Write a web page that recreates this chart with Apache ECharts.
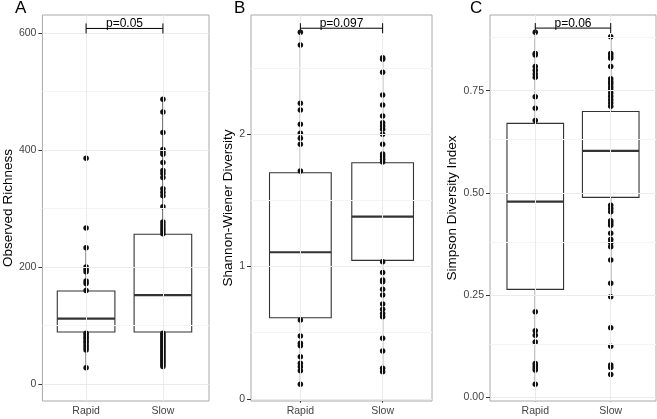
<!DOCTYPE html>
<html><head><meta charset="utf-8">
<script src="https://cdn.jsdelivr.net/npm/echarts@6/dist/echarts.min.js"></script>
<style>html,body{margin:0;padding:0;background:#fff}#c{width:657px;height:419px}</style>
</head><body><div id="c"></div>
<script>
// ---- data ----
const groups = ['Rapid', 'Slow'];
const panelLetters = ['A', 'B', 'C'];
const yTitles = ['Observed Richness', 'Shannon-Wiener Diversity', 'Simpson Diversity Index'];
const pLabels = ['p=0.05', 'p=0.097', 'p=0.06'];
const bracketLevels = [608, 2.80, 0.903];

// Observed Richness: box = [lower whisker, Q1, median, Q3, upper whisker]
const richnessBox = [[28, 89, 112, 159, 233], [30, 89, 152, 256, 487]];
const richnessRapid = [386, 267, 233, 200, 196, 192, 176, 172, 160, 87, 84, 80, 77, 73, 70, 66, 62, 58, 28];
const richnessSlow = [487, 465, 430, 401, 397, 393, 379, 365, 360, 353, 334, 328, 322, 303, 277, 272, 267, 262, 257,
  87, 84, 81, 78, 75, 72, 69, 66, 63, 60, 57, 54, 51, 48, 45, 42, 39, 36, 33, 30];
const richnessTicks = [0, 200, 400, 600];
const richnessMinor = [100, 300, 500];
const richnessRange = [-29, 631];

// Shannon-Wiener Diversity
const shannonBox = [[0.109, 0.612, 1.107, 1.708, 2.77], [0.204, 1.046, 1.376, 1.784, 2.577]];
const shannonRapid = [2.77, 2.673, 2.233, 2.182, 2.074, 2.006, 1.968, 1.923, 1.721,
  0.595, 0.474, 0.419, 0.401, 0.318, 0.268, 0.242, 0.212, 0.109];
const shannonSlow = [2.577, 2.565, 2.467, 2.296, 2.22, 2.137, 2.086, 2.061, 2.036, 1.998, 1.923, 1.85, 1.83, 1.81, 1.79,
  1.036, 0.955, 0.897, 0.884, 0.827, 0.784, 0.716, 0.676, 0.645, 0.62, 0.457, 0.361, 0.23, 0.204];
const shannonTicks = [0, 1, 2];
const shannonMinor = [0.5, 1.5, 2.5];
const shannonRange = [-0.017, 2.9];

// Simpson Diversity Index
const simpsonBox = [[0.032, 0.264, 0.4785, 0.670, 0.893], [0.246, 0.489, 0.6025, 0.699, 0.882]];
const simpsonRapid = [0.893, 0.841, 0.837, 0.809, 0.80, 0.791, 0.783, 0.735, 0.707, 0.677,
  0.209, 0.163, 0.152, 0.135, 0.083, 0.077, 0.072, 0.067, 0.032];
const simpsonSlow = [0.882, 0.841, 0.835, 0.829, 0.809, 0.779, 0.772, 0.766, 0.759, 0.752, 0.744, 0.736, 0.728, 0.72, 0.712,
  0.47, 0.462, 0.454, 0.432, 0.427, 0.421, 0.401, 0.386, 0.378, 0.368, 0.336, 0.279, 0.246, 0.170, 0.125, 0.079, 0.073, 0.056];
const simpsonTicks = [0, 0.25, 0.5, 0.75];
const simpsonMinor = [0.125, 0.375, 0.625, 0.875];
const simpsonRange = [-0.009, 0.935];

// ---- layout (not data) ----
const layout = [
  { left: 40, width: 169, nameGap: 27, letterLeft: 15, fmt: v => String(v) },
  { left: 251, width: 181, nameGap: 15, letterLeft: 234, fmt: v => String(v) },
  { left: 490, width: 166, nameGap: 31, letterLeft: 470, fmt: v => v.toFixed(2) }
];
const TOP = 15, HEIGHT = 386;
const panels = [
  { box: richnessBox, pts: [richnessRapid, richnessSlow], ticks: richnessTicks, minor: richnessMinor, range: richnessRange },
  { box: shannonBox, pts: [shannonRapid, shannonSlow], ticks: shannonTicks, minor: shannonMinor, range: shannonRange },
  { box: simpsonBox, pts: [simpsonRapid, simpsonSlow], ticks: simpsonTicks, minor: simpsonMinor, range: simpsonRange }
];

const INK = '#333333';
const grids = [], xAxes = [], yAxes = [], series = [], titles = [];

function renderBox(params, api) {
  const x = api.value(0);
  const lo = api.coord([x, api.value(1)]);
  const q1 = api.coord([x, api.value(2)]);
  const md = api.coord([x, api.value(3)]);
  const q3 = api.coord([x, api.value(4)]);
  const hi = api.coord([x, api.value(5)]);
  const hw = api.size([1, 0])[0] * 0.375;
  const cx = lo[0];
  const ls = { stroke: INK, lineWidth: 1.1 };
  return { type: 'group', children: [
    { type: 'line', shape: { x1: cx, y1: hi[1], x2: cx, y2: q3[1] }, style: ls },
    { type: 'line', shape: { x1: cx, y1: q1[1], x2: cx, y2: lo[1] }, style: ls },
    { type: 'rect', shape: { x: cx - hw, y: q3[1], width: 2 * hw, height: q1[1] - q3[1] }, style: { fill: '#fff', stroke: INK, lineWidth: 1.1 } },
    { type: 'line', shape: { x1: cx - hw, y1: md[1], x2: cx + hw, y2: md[1] }, style: { stroke: INK, lineWidth: 2.2 } }
  ]};
}

function renderBracket(params, api) {
  const y = api.value(1);
  const a = api.coord([0, y]);
  const b = api.coord([1, y]);
  const ls = { stroke: '#000', lineWidth: 1 };
  return { type: 'group', children: [
    { type: 'line', shape: { x1: a[0], y1: a[1], x2: b[0], y2: b[1] }, style: ls },
    { type: 'line', shape: { x1: a[0], y1: a[1] - 5, x2: a[0], y2: a[1] + 5 }, style: ls },
    { type: 'line', shape: { x1: b[0], y1: b[1] - 5, x2: b[0], y2: b[1] + 5 }, style: ls },
    { type: 'text', style: { text: pLabels[api.value(0)], x: (a[0] + b[0]) / 2, y: a[1] + 1.5,
      align: 'center', verticalAlign: 'bottom', fill: '#000', fontSize: 12, fontFamily: 'Liberation Sans' } }
  ]};
}

panels.forEach((p, i) => {
  const L = layout[i];
  const og = grids.length;
  grids.push({ left: L.left, top: TOP, width: L.width, height: HEIGHT, show: true,
    borderColor: '#a8a8a8', borderWidth: 1, backgroundColor: 'transparent' });
  const inLeft = L.left + L.width / 22, inWidth = L.width * 2 / 2.2;
  grids.push({ left: inLeft, top: TOP, width: inWidth, height: HEIGHT, show: false });
  const ig = og + 1;
  xAxes.push({ type: 'value', gridIndex: og, min: 0, max: 1, show: false });
  yAxes.push({ type: 'value', gridIndex: og, min: p.range[0], max: p.range[1],
    name: yTitles[i], nameLocation: 'middle', nameRotate: 90, nameGap: L.nameGap,
    nameTextStyle: { fontSize: 13.5, color: '#000', fontFamily: 'Liberation Sans' },
    axisLine: { show: false },
    axisTick: { show: true, length: 4, customValues: p.ticks, lineStyle: { color: INK } },
    axisLabel: { customValues: p.ticks, margin: 6, fontSize: 10.5, color: '#444', formatter: L.fmt, fontFamily: 'Liberation Sans' },
    splitLine: { show: false } });
  xAxes.push({ type: 'category', gridIndex: ig, data: groups, boundaryGap: true,
    axisLine: { show: false },
    axisTick: { show: true, alignWithLabel: true, length: 4, lineStyle: { color: INK } },
    axisLabel: { fontSize: 10.5, color: '#444', margin: 5, fontFamily: 'Liberation Sans' },
    splitLine: { show: false } });
  yAxes.push({ type: 'value', gridIndex: ig, min: p.range[0], max: p.range[1], show: false, splitLine: { show: false } });

  // grid lines
  series.push({ type: 'scatter', xAxisIndex: og, yAxisIndex: og, data: [], z: 0, silent: true,
    markLine: { silent: true, symbol: 'none', label: { show: false }, animation: false,
      data: p.ticks.map(v => ({ yAxis: v, lineStyle: { color: '#ebebeb', width: 1, type: 'solid' } }))
        .concat(p.minor.map(v => ({ yAxis: v, lineStyle: { color: '#f4f4f4', width: 1, type: 'solid' } }))) } });
  series.push({ type: 'scatter', xAxisIndex: ig, yAxisIndex: ig, data: [], z: 0, silent: true,
    markLine: { silent: true, symbol: 'none', label: { show: false }, animation: false,
      data: groups.map((g, k) => ({ xAxis: k, lineStyle: { color: '#ebebeb', width: 1, type: 'solid' } })) } });
  // boxes
  series.push({ type: 'custom', xAxisIndex: ig, yAxisIndex: ig, z: 2, silent: true,
    data: p.box.map((b, k) => [k].concat(b)), encode: { x: 0, y: [1, 2, 3, 4, 5] }, renderItem: renderBox });
  // points
  const pts = [];
  p.pts.forEach((arr, k) => arr.forEach(v => pts.push([k, v])));
  series.push({ type: 'scatter', xAxisIndex: ig, yAxisIndex: ig, data: pts, symbolSize: 5.5, z: 4,
    itemStyle: { color: '#111', opacity: 1 }, silent: true });
  // significance bracket
  series.push({ type: 'custom', xAxisIndex: ig, yAxisIndex: ig, z: 5, silent: true, clip: false,
    data: [[i, bracketLevels[i]]], encode: { y: 1 }, renderItem: renderBracket });

  titles.push({ text: panelLetters[i], left: L.letterLeft, top: 0, padding: 0,
    textStyle: { fontSize: 17, fontWeight: 'normal', color: '#000', fontFamily: 'Liberation Sans' } });
});

const chart = echarts.init(document.getElementById('c'), null, { renderer: 'canvas' });
chart.setOption({
  animation: false,
  backgroundColor: '#fff',
  textStyle: { fontFamily: 'Liberation Sans' },
  title: titles,
  grid: grids, xAxis: xAxes, yAxis: yAxes, series: series
});
</script></body></html>
